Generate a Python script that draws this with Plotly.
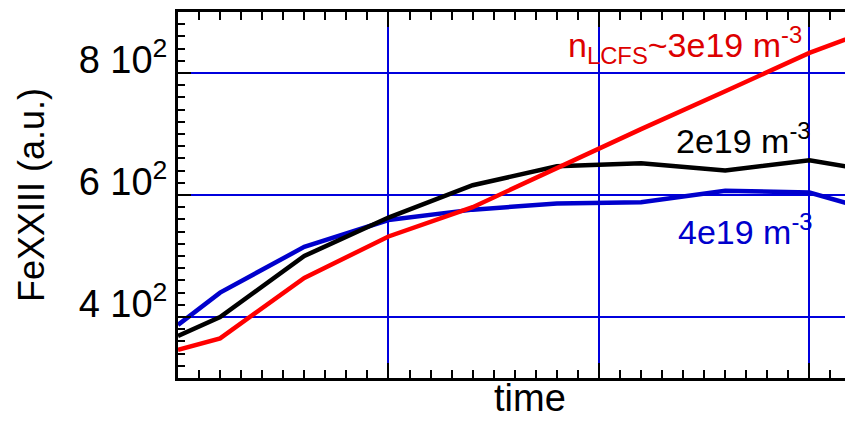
import plotly.graph_objects as go

# Data (arbitrary time units; majors at 1, 2, 3)
time_pts = [0, 0.2, 0.6, 1.0, 1.4, 1.8, 2.2, 2.6, 3.0, 3.4]
fe_n3e19 = [346, 365, 464, 532, 580, 645, 708, 770, 833, 884]
fe_n2e19 = [369, 400, 500, 563, 616, 647, 652, 640, 657, 634]
fe_n4e19 = [387, 440, 515, 559, 576, 586, 588, 607, 604, 565]

ytick_vals = [400, 600, 800]
ytick_text = ["4 10<sup>2</sup>", "6 10<sup>2</sup>", "8 10<sup>2</sup>"]

FONT = "Liberation Sans, Arial, Helvetica, sans-serif"
GRID = "#0000dd"

fig = go.Figure()
series = [
    (fe_n4e19, "#0000cc"),
    (fe_n2e19, "#000000"),
    (fe_n3e19, "#ff0000"),
]
for vals, color in series:
    fig.add_trace(go.Scatter(x=time_pts, y=vals, mode="lines",
                             line=dict(color=color, width=4.5),
                             showlegend=False, hoverinfo="skip"))

fig.update_layout(
    width=845, height=421,
    margin=dict(l=178, r=0, t=12, b=43),
    plot_bgcolor="white", paper_bgcolor="white",
    font=dict(family=FONT, size=34, color="black"),
    yaxis2=dict(overlaying="y", side="right", range=[300, 900],
                tickvals=ytick_vals, showticklabels=False,
                ticks="inside", ticklen=8, tickwidth=2, tickcolor="black",
                showline=False, showgrid=False, zeroline=False,
                minor=dict(dtick=20, tick0=300, ticks="inside", ticklen=4,
                           tickwidth=2, tickcolor="black", showgrid=False)),
)

fig.update_xaxes(range=[0, 3.169], showgrid=True, gridcolor=GRID, gridwidth=1.5,
                 tick0=0, dtick=1, showticklabels=False,
                 ticks="inside", ticklen=15, tickwidth=2, tickcolor="black",
                 showline=True, linecolor="black", linewidth=3,
                 mirror="allticks", zeroline=False,
                 minor=dict(dtick=0.1, tick0=0, ticks="inside", ticklen=8,
                            tickwidth=2, tickcolor="black", showgrid=False))

fig.layout.yaxis.update(range=[300, 900], tickvals=ytick_vals, ticktext=ytick_text,
                        ticks="inside", ticklen=13, tickwidth=2, tickcolor="black",
                        showline=True, linecolor="black", linewidth=3,
                        showgrid=True, gridcolor=GRID, gridwidth=1.5, zeroline=False,
                        ticklabelshift=-13,
                        tickfont=dict(family=FONT, size=38, color="black"),
                        minor=dict(dtick=20, tick0=300, ticks="inside", ticklen=7,
                                   tickwidth=2, tickcolor="black", showgrid=False))

annotations = [
    dict(text="n<sub>LCFS</sub>~3e19 m<sup>-3</sup>", x=2.975, y=846, xref="x", yref="y",
         xanchor="right", yanchor="middle", showarrow=False,
         font=dict(family=FONT, size=34, color="#dd0000")),
    dict(text="2e19 m<sup>-3</sup>", x=3.015, y=693, xref="x", yref="y",
         xanchor="right", yanchor="middle", showarrow=False,
         font=dict(family=FONT, size=34, color="black")),
    dict(text="4e19 m<sup>-3</sup>", x=3.025, y=543, xref="x", yref="y",
         xanchor="right", yanchor="middle", showarrow=False,
         font=dict(family=FONT, size=34, color="#0000cc")),
    dict(text="FeXXIII (a.u.)", textangle=-90, xref="paper", yref="paper",
         x=0, y=0.5, xshift=-147, xanchor="center", yanchor="middle", showarrow=False,
         font=dict(family=FONT, size=36, color="black")),
    dict(text="time", xref="paper", yref="paper", x=0.528, y=0, yshift=-43,
         xanchor="center", yanchor="bottom", showarrow=False,
         font=dict(family=FONT, size=38, color="black")),
]
fig.update_layout(annotations=annotations)

fig.write_html("out.html")
